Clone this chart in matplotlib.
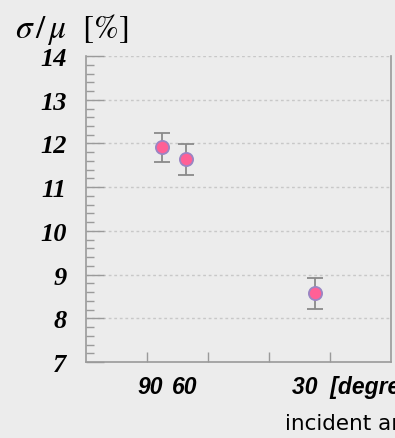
import numpy as np
import matplotlib
matplotlib.use("Agg")
import matplotlib.pyplot as plt
from matplotlib.ticker import MultipleLocator, NullFormatter, FixedLocator

# Energy resolution versus incident angle
angles_deg = [90, 60, 30]
resolution = [11.91, 11.64, 8.57]
resolution_err = [0.33, 0.35, 0.35]
y_ticks = [7, 8, 9, 10, 11, 12, 13, 14]

# horizontal position: relative path length through the detector, 1/sin(angle)
path_len = [1.0 / np.sin(np.radians(a)) for a in angles_deg]

bg = "#ececec"
plt.rcParams["mathtext.fontset"] = "stix"

fig = plt.figure(figsize=(3.95, 4.39), dpi=100, facecolor=bg)
ax = fig.add_axes([0.2177, 0.1731, 0.9899 - 0.2177, 0.870 - 0.1731], facecolor=bg)

ax.set_xlim(0.5, 2.5)
ax.set_ylim(7, 14)

# horizontal dotted grid
for yv in y_ticks[1:]:
    ax.axhline(yv, color="#c8c8c8", lw=1.0, ls=(0, (2, 2)), zorder=0)

ax.errorbar(path_len, resolution, yerr=resolution_err, fmt="o",
            color="#8a8a8a", elinewidth=1.3, capsize=5.5, capthick=1.3,
            marker="o", markersize=9.5, markerfacecolor="#ff6096",
            markeredgecolor="#9a86c4", markeredgewidth=1.3, zorder=3)

for side in ["left", "bottom", "right"]:
    ax.spines[side].set_color("#9a9a9a")
    ax.spines[side].set_linewidth(1.2)
ax.spines["top"].set_visible(False)

ax.yaxis.set_minor_locator(MultipleLocator(0.2))
ax.tick_params(axis="y", which="major", direction="in", length=13, width=1.0,
               color="#9a9a9a", pad=14)
ax.tick_params(axis="y", which="minor", direction="in", length=6, width=1.0,
               color="#9a9a9a")
ax.set_yticks(y_ticks)
ax.set_yticklabels([str(v) for v in y_ticks],
                   fontfamily="Liberation Serif", fontweight="bold",
                   fontstyle="italic", fontsize=19)

ax.xaxis.set_major_locator(FixedLocator([0.9, 1.3, 1.7, 2.1]))
ax.xaxis.set_major_formatter(NullFormatter())
ax.tick_params(axis="x", which="major", direction="in", length=7, width=1.0,
               color="#9a9a9a")

# angle labels below the axis
lab_kw = dict(fontfamily="Liberation Sans", fontweight="bold",
              fontstyle="italic", fontsize=16.5, va="center",
              transform=ax.get_xaxis_transform())
ax.text(path_len[0] + 0.005, -0.08, f"{angles_deg[0]}", ha="right", **lab_kw)
ax.text(path_len[1] + 0.075, -0.08, f"{angles_deg[1]}", ha="right", **lab_kw)
ax.text(path_len[2] - 0.149, -0.08, f"{angles_deg[2]}  [degree]", ha="left", **lab_kw)

fig.text(285 / 395, 1 - 430 / 439, "incident angle", fontfamily="DejaVu Sans",
         fontsize=15.5, ha="left", va="baseline")

fig.text(15 / 395, 1 - 38 / 439, r"$\sigma\,/\,\mu\ \ [\%]$", fontsize=24,
         ha="left", va="baseline")

fig.savefig("out.png", dpi=100, facecolor=bg)
